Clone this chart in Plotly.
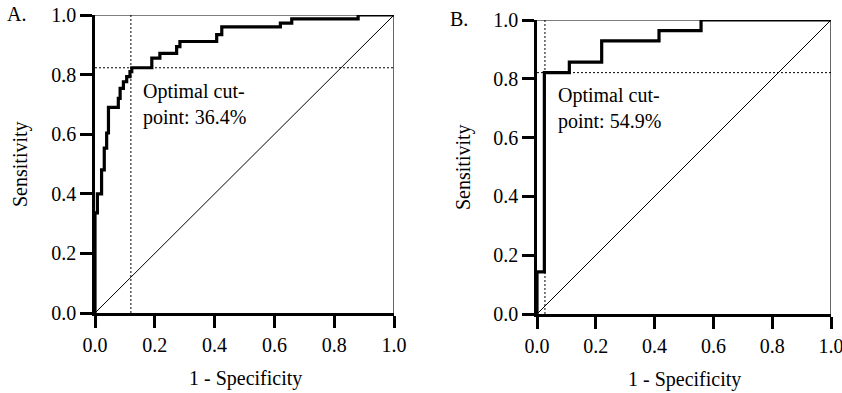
import plotly.graph_objects as go

# ---- data ----
fpr_a = [0, 0, 0.008, 0.022, 0.031, 0.039, 0.045, 0.078, 0.084, 0.095, 0.106, 0.117, 0.123,
         0.19, 0.217, 0.273, 0.284, 0.407, 0.424, 0.62, 0.658, 0.88, 1.0]
tpr_a = [0, 0.336, 0.40, 0.48, 0.553, 0.604, 0.69, 0.72, 0.754, 0.776, 0.793, 0.81, 0.823,
         0.855, 0.871, 0.894, 0.911, 0.934, 0.96, 0.973, 0.987, 1.0, 1.0]
fpr_b = [0, 0, 0.025, 0.11, 0.22, 0.415, 0.558, 1.0]
tpr_b = [0, 0.143, 0.821, 0.857, 0.929, 0.964, 1.0, 1.0]
cut_a = (0.12, 0.823)
cut_b = (0.027, 0.821)
cut_text_a = "Optimal cut-<br>point: 36.4%"
cut_text_b = "Optimal cut-<br>point: 54.9%"
tick_vals = [0, 0.2, 0.4, 0.6, 0.8, 1.0]
tick_text = ["0.0", "0.2", "0.4", "0.6", "0.8", "1.0"]

W, H = 842, 393
FONT = "Times New Roman, Liberation Serif, DejaVu Serif, serif"
FS = 20

def px(x):
    return x / W

def py(y):
    return 1 - y / H

fig = go.Figure()

panels = [
    dict(xa="x", ya="y", fpr=fpr_a, tpr=tpr_a, cut=cut_a, txt=cut_text_a,
         xdom=[px(95), px(394)], ydom=[py(313), py(15)], tx=0.155, ty=0.79),
    dict(xa="x2", ya="y2", fpr=fpr_b, tpr=tpr_b, cut=cut_b, txt=cut_text_b,
         xdom=[px(537), px(831)], ydom=[py(314), py(20)], tx=0.063, ty=0.79),
]

for i, p in enumerate(panels):
    xa, ya = p["xa"], p["ya"]
    fig.add_trace(go.Scatter(x=[p["cut"][0], p["cut"][0]], y=[0, 1], mode="lines",
                             line=dict(color="black", width=1, dash="2px,2px"),
                             xaxis=xa, yaxis=ya, showlegend=False, hoverinfo="skip"))
    fig.add_trace(go.Scatter(x=[0, 1], y=[p["cut"][1], p["cut"][1]], mode="lines",
                             line=dict(color="black", width=1, dash="2px,2px"),
                             xaxis=xa, yaxis=ya, showlegend=False, hoverinfo="skip"))
    fig.add_trace(go.Scatter(x=[0, 1], y=[0, 1], mode="lines",
                             line=dict(color="black", width=1),
                             xaxis=xa, yaxis=ya, showlegend=False, hoverinfo="skip"))
    fig.add_trace(go.Scatter(x=p["fpr"], y=p["tpr"], mode="lines", line_shape="hv",
                             line=dict(color="black", width=3.2),
                             xaxis=xa, yaxis=ya, showlegend=False, cliponaxis=False))
    fig.add_shape(type="line", xref=xa, yref=ya, x0=0, x1=1, y0=1, y1=1,
                  line=dict(color="black", width=1.2), layer="below")
    fig.add_shape(type="line", xref=xa, yref=ya, x0=1, x1=1, y0=0, y1=1,
                  line=dict(color="black", width=1.2), layer="below")
    fig.add_annotation(xref=xa, yref=ya, x=p["tx"], y=p["ty"], text=p["txt"],
                       showarrow=False, xanchor="left", yanchor="top", align="left",
                       font=dict(family=FONT, size=FS, color="black"))

axis_common = dict(range=[0, 1], tickvals=tick_vals, ticktext=tick_text,
                   showline=True, linecolor="black", linewidth=2.5,
                   ticks="outside", ticklen=12, tickwidth=3, tickcolor="black",
                   showgrid=False, zeroline=False, automargin=False,
                   ticklabeloverflow="allow",
                   tickfont=dict(family=FONT, size=FS, color="black"), fixedrange=True)

fig.update_layout(
    width=W, height=H,
    margin=dict(l=0, r=0, t=0, b=0),
    paper_bgcolor="white", plot_bgcolor="white",
    font=dict(family=FONT, size=FS, color="black"),
    xaxis=dict(domain=panels[0]["xdom"], anchor="y", **axis_common),
    yaxis=dict(domain=panels[0]["ydom"], anchor="x", **axis_common),
    xaxis2=dict(domain=panels[1]["xdom"], anchor="y2", **axis_common),
    yaxis2=dict(domain=panels[1]["ydom"], anchor="x2", **axis_common),
    showlegend=False,
)

labels = [
    ("A.", 16, 14, 0),
    ("B.", 459, 19, 0),
    ("Sensitivity", 21, 164, -90),
    ("Sensitivity", 463, 167, -90),
    ("1 - Specificity", 245, 378, 0),
    ("1 - Specificity", 684, 379, 0),
]
for t, x, y, ang in labels:
    fig.add_annotation(xref="paper", yref="paper", x=px(x), y=py(y), text=t,
                       showarrow=False, xanchor="center", yanchor="middle",
                       textangle=ang, font=dict(family=FONT, size=FS, color="black"))

fig.write_html("out.html")
